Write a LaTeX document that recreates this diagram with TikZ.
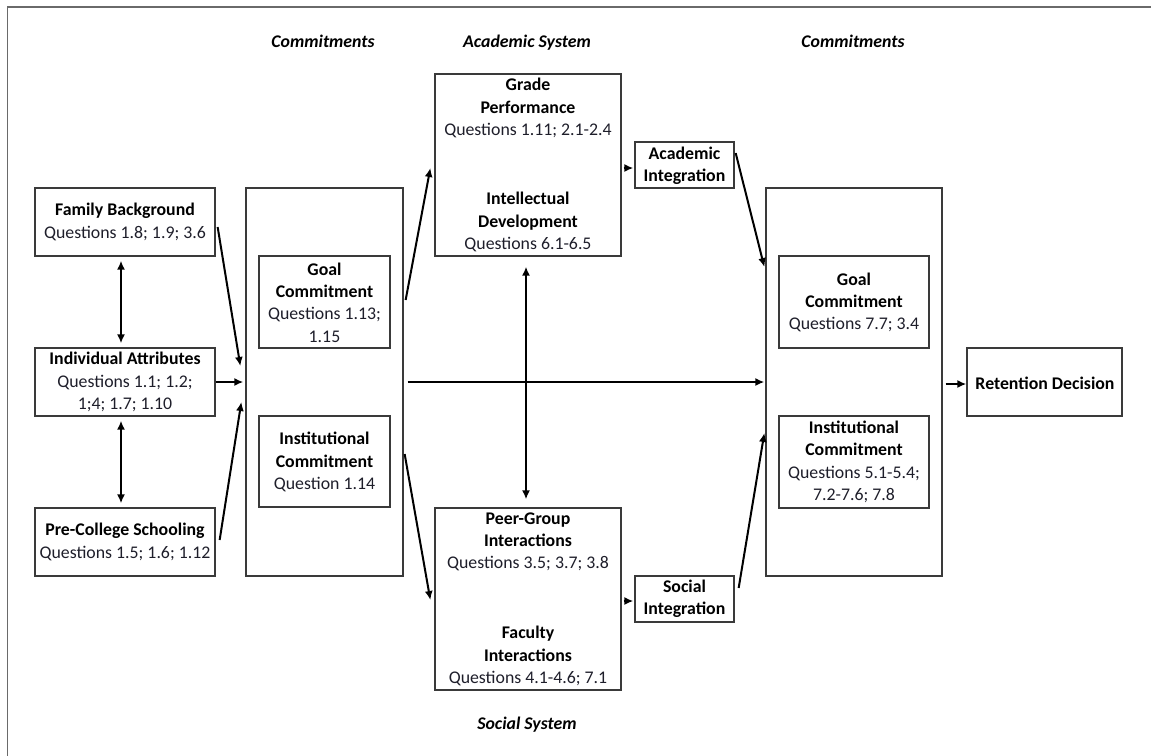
\documentclass[tikz,border=0pt]{standalone}
\usepackage{fontspec}
\setmainfont{Carlito}
\usetikzlibrary{arrows.meta,calc}
\definecolor{boxgray}{HTML}{3A3A3A}
\definecolor{framegray}{HTML}{6A6A6A}
\definecolor{qcol}{HTML}{1E1E2A}
\tikzset{
  box/.style={draw=boxgray, line width=1.3pt, inner sep=0pt, fill=none},
  txt/.style={align=center, inner sep=0pt, font=\fontsize{17.8}{22.3}\selectfont, text=black},
  head/.style={inner sep=0pt, text height=12.5pt, text depth=3.5pt, font=\fontsize{17.8}{20}\selectfont\bfseries\itshape},
  arr/.style={line width=2pt, -{Latex[length=9pt,width=8pt]}},
  darr/.style={line width=2pt, {Latex[length=9pt,width=8pt]}-{Latex[length=9pt,width=8pt]}}
}
\newcommand{\q}[1]{\textcolor{qcol}{#1}}
\begin{document}
\begin{tikzpicture}[x=1pt,y=-1pt]
\useasboundingbox (0,0) rectangle (1151,755);
% frame
\draw[framegray, line width=1.8pt] (7.5,756) -- (7.5,7) -- (1152,7);

% headings
\node[head] (h1) at (323,43) {Commitments};
\node[head] (h2) at (527,43) {Academic System};
\node[head] (h3) at (853,43) {Commitments};
\node[head] (h4) at (527,725) {Social System};

% left column
\node[box, minimum width=180pt, minimum height=68pt] (fam) at (125,222) {};
\node[txt] (famT) at (125,222) {\textbf{Family Background}\\\q{Questions 1.8; 1.9; 3.6}};
\node[box, minimum width=180pt, minimum height=68pt] (ind) at (125,382) {};
\node[txt] (indT) at (125,382) {\textbf{Individual Attributes}\\\q{Questions 1.1; 1.2;}\\\q{1;4; 1.7; 1.10}};
\node[box, minimum width=180pt, minimum height=68pt] (pre) at (125,542) {};
\node[txt] (preT) at (125,542) {\textbf{Pre-College Schooling}\\\q{Questions 1.5; 1.6; 1.12}};

% left commitments
\node[box, minimum width=157pt, minimum height=388pt] (comL) at (324.5,382) {};
\node[box, minimum width=131pt, minimum height=92pt] (goalL) at (324.5,302) {};
\node[txt] (goalLT) at (324.5,302.5) {\textbf{Goal}\\\textbf{Commitment}\\\q{Questions 1.13;}\\\q{1.15}};
\node[box, minimum width=131pt, minimum height=91pt] (instL) at (324.5,461.5) {};
\node[txt] (instLT) at (324.5,462) {\textbf{Institutional}\\\textbf{Commitment}\\\q{Question 1.14}};

% academic system
\node[box, minimum width=186pt, minimum height=182pt] (grade) at (528,165) {};
\node[txt] (gradeT) at (528,108) {\textbf{Grade}\\\textbf{Performance}\\\q{Questions 1.11; 2.1-2.4}};
\node[txt] (intT) at (528,222) {\textbf{Intellectual}\\\textbf{Development}\\\q{Questions 6.1-6.5}};
\node[box, minimum width=99pt, minimum height=46pt] (acad) at (684.5,165) {};
\node[txt] (acadT) at (684.5,165.5) {\textbf{Academic}\\\textbf{Integration}};

% social system
\node[box, minimum width=186pt, minimum height=182pt] (peer) at (528,599) {};
\node[txt] (peerT) at (528,542) {\textbf{Peer-Group}\\\textbf{Interactions}\\\q{Questions 3.5; 3.7; 3.8}};
\node[txt] (facT) at (528,656) {\textbf{Faculty}\\\textbf{Interactions}\\\q{Questions 4.1-4.6; 7.1}};
\node[box, minimum width=99pt, minimum height=46pt] (soc) at (684.5,599) {};
\node[txt] (socT) at (684.5,598.5) {\textbf{Social}\\\textbf{Integration}};

% right commitments
\node[box, minimum width=176pt, minimum height=388pt] (comR) at (854,382) {};
\node[box, minimum width=150pt, minimum height=92pt] (goalR) at (854,302) {};
\node[txt] (goalRT) at (854,302.5) {\textbf{Goal}\\\textbf{Commitment}\\\q{Questions 7.7; 3.4}};
\node[box, minimum width=150pt, minimum height=92pt] (instR) at (854,462) {};
\node[txt] (instRT) at (854,462) {\textbf{Institutional}\\\textbf{Commitment}\\\q{Questions 5.1-5.4;}\\\q{7.2-7.6; 7.8}};

% retention
\node[box, minimum width=155pt, minimum height=68pt] (ret) at (1044.5,382) {};
\node[txt] (retT) at (1045,383) {\textbf{Retention Decision}};

% arrows
\draw[arr] ($(fam.east)+(2,5)$) -- ($(comL.west)+(-5,-16)$);
\draw[arr] (ind.east) -- ($(comL.west)+(-2,0)$);
\draw[arr] ($(pre.east)+(4,-2)$) -- ($(comL.west)+(-4,20)$);
\draw[darr] ($(fam.south)+(-4,4)$) -- ($(ind.north)+(-4,-4)$);
\draw[darr] ($(ind.south)+(-4,4)$) -- ($(pre.north)+(-4,-4)$);
\draw[arr] ($(comL.east)+(2,-82)$) -- ($(grade.west)+(-4,3)$);
\draw[arr] ($(comL.east)+(1,72)$) -- ($(peer.west)+(-4,1)$);
\draw[arr] ($(comL.east)+(4,0)$) -- ($(comR.west)+(-1,0)$);
\draw[darr] ($(grade.south)+(-2,10)$) -- ($(peer.north)+(-2,-8)$);
\draw[arr] ($(grade.east)+(2,3)$) -- ($(acad.west)+(-1,3)$);
\draw[arr] ($(peer.east)+(2,2)$) -- ($(soc.west)+(-1,2)$);
\draw[arr] ($(acad.east)+(1,-12)$) -- ($(comR.west)+(-1,-115)$);
\draw[arr] ($(soc.east)+(4,-11)$) -- ($(comR.west)+(-1,51)$);
\draw[arr] ($(comR.east)+(3,2)$) -- ($(ret.west)+(0,2)$);
\end{tikzpicture}
\end{document}
